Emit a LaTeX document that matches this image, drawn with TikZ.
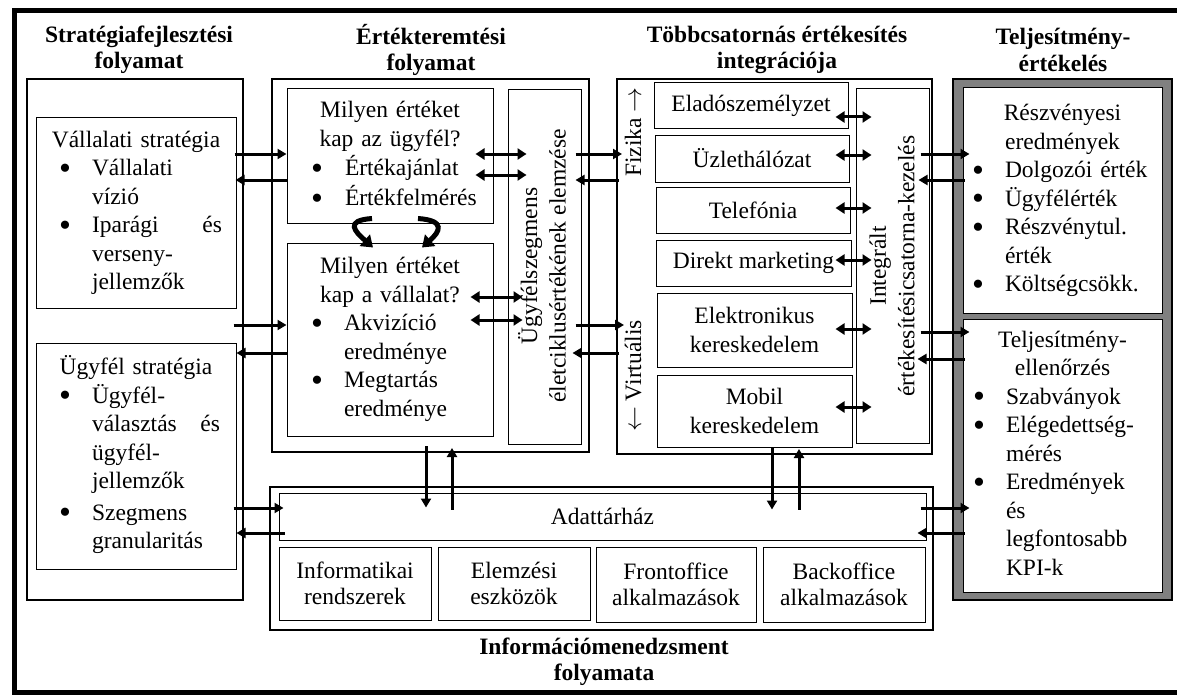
\documentclass[tikz,border=0pt]{standalone}
\usepackage{fontspec}
\setmainfont{Liberation Serif}
\usetikzlibrary{arrows.meta,calc}
\setlength\parindent{0pt}
% one line of a box: centred heading, bulleted line, continuation line
\newcommand\bigbullet{\smash{\raisebox{-3.5pt}{\scalebox{1.45}{\textbullet}}}}
\newcommand\boxhead[1]{\makebox[\linewidth]{\strut#1}}
\newcommand\bulline[3]{\makebox[\linewidth][l]{\strut\hspace*{#1pt}\rlap{\bigbullet}\hspace*{#2pt}#3}}
\newcommand\contline[2]{\makebox[\linewidth][l]{\strut\hspace*{#1pt}#2}}

\tikzset{
  outerbox/.style={draw, line width=2pt, inner sep=0pt},
  innerbox/.style={draw, line width=1pt, inner sep=0pt},
  plaintext/.style={inner sep=0pt},
  titletext/.style={inner sep=0pt, align=center, font=\fontsize{23.5pt}{26.5pt}\selectfont\bfseries},
  twolines/.style={align=center, font=\fontsize{23.5pt}{26.5pt}\selectfont},
  onearrow/.style={line width=3pt, -{Triangle[length=9pt,width=10pt]}},
  twoarrow/.style={line width=3pt, {Triangle[length=9pt,width=11pt]}-{Triangle[length=9pt,width=11pt]}},
  bendarrow/.style={line width=5pt, -{Triangle[length=11pt,width=15pt]}},
}

\begin{document}
\begin{tikzpicture}[x=1pt,y=-1pt,font=\fontsize{23.5pt}{28.5pt}\selectfont]
\useasboundingbox (0,0) rectangle (1177,698);

% heavy outer frame (its right side runs past the page edge)
\draw[line width=5pt] (14,10.5) rectangle (1185,692);

% column titles
\node[titletext] (t1) at (139,50) {Stratégiafejlesztési\\folyamat};
\node[titletext] (t2) at (431,50) {Értékteremtési\\folyamat};
\node[titletext] (t3) at (777,50) {Többcsatornás értékesítés\\integrációja};
\node[titletext] (t4) at (1063,50) {Teljesítmény-\\értékelés};
\node[titletext] (t5) at (604,662) {Információmenedzsment\\folyamata};

% strategy development
\node[outerbox, minimum width=216pt, minimum height=521pt] (c1) at (135,339.5) {};
\node[innerbox, text width=200pt, minimum height=190pt] (vs) at (136,213) {%
  \boxhead{Vállalati stratégia}\\
  \bulline{23}{33}{Vállalati}\\
  \contline{56}{vízió}\\
  \bulline{23}{33}{\makebox[130pt]{Iparági\hfill és}}\\
  \contline{56}{verseny-}\\
  \contline{56}{jellemzők}};
\node[innerbox, text width=200pt, minimum height=226pt] (us) at (136,456) {%
  \boxhead{Ügyfél stratégia}\\
  \bulline{23}{33}{Ügyfél-}\\
  \contline{56}{\makebox[128pt]{választás\hfill és}}\\
  \contline{56}{ügyfél-}\\
  \contline{56}{jellemzők}\\[3pt]
  \bulline{23}{33}{Szegmens}\\
  \contline{56}{granularitás}};

% value creation
\node[outerbox, minimum width=317pt, minimum height=373pt] (c2) at (430.5,265.5) {};
\node[innerbox, text width=206pt, minimum height=134pt] (q1) at (390,156) {%
  \boxhead{Milyen értéket}\\
  \boxhead{kap az ügyfél?}\\
  \bulline{24}{34}{Értékajánlat}\\
  \bulline{24}{34}{Értékfelmérés}};
\node[innerbox, text width=206pt, minimum height=193pt] (q2) at (390,339.5) {%
  \boxhead{Milyen értéket}\\
  \boxhead{kap a vállalat?}\\
  \bulline{24}{33}{Akvizíció}\\
  \contline{57}{eredménye}\\
  \bulline{24}{33}{Megtartás}\\
  \contline{57}{eredménye}};
\node[innerbox, minimum width=73pt, minimum height=354pt] (lc) at (544.5,267) {};
\node[plaintext, rotate=90, align=center] (lct) at (542,266) {Ügyfélszegmens\\életciklusértékének elemzése};

% multichannel integration
\node[outerbox, minimum width=315pt, minimum height=375pt] (c3) at (774.5,266.5) {};
\node[plaintext, rotate=90] (fiz) at (633,132) {Fizika $\rightarrow$};
\node[plaintext, rotate=90] (virt) at (633,376) {$\leftarrow$ Virtuális};
\node[innerbox, minimum width=194pt, minimum height=46pt] (ch1) at (751,106) {Eladószemélyzet};
\node[innerbox, minimum width=194pt, minimum height=47pt] (ch2) at (752,158.5) {Üzlethálózat};
\node[innerbox, minimum width=194pt, minimum height=46pt] (ch3) at (753,210) {Telefónia};
\node[innerbox, minimum width=195pt, minimum height=46pt] (ch4) at (753.5,263) {Direkt marketing};
\node[innerbox, minimum width=195pt, minimum height=74pt, align=center] (ch5) at (754.5,330) {Elektronikus\\kereskedelem};
\node[innerbox, minimum width=195pt, minimum height=72pt, align=center] (ch6) at (754.5,411) {Mobil\\kereskedelem};
\node[innerbox, minimum width=73pt, minimum height=354pt] (ic) at (892.5,266) {};
\node[plaintext, rotate=90, align=center] (ict) at (892,266) {Integrált\\értékesítésicsatorna-kezelés};

% performance evaluation
\node[draw, line width=1.5pt, fill=black!50, inner sep=0pt, minimum width=219pt, minimum height=521pt] (c4) at (1062.5,339.5) {};
\node[innerbox, fill=white, text width=199pt, minimum height=225pt] (r1) at (1062.5,200.5) {%
  \boxhead{Részvényesi}\\
  \boxhead{eredmények}\\
  \bulline{9}{33}{Dolgozói érték}\\
  \bulline{9}{33}{Ügyfélérték}\\
  \bulline{9}{33}{Részvénytul.}\\
  \contline{42}{érték}\\
  \bulline{9}{33}{Költségcsökk.}};
\node[innerbox, fill=white, text width=199pt, minimum height=273pt] (r2) at (1062.5,455.5) {%
  \boxhead{Teljesítmény-}\\
  \boxhead{ellenőrzés}\\
  \bulline{10}{33}{Szabványok}\\
  \bulline{10}{33}{Elégedettség-}\\
  \contline{43}{mérés}\\
  \bulline{10}{33}{Eredmények}\\
  \contline{43}{és}\\
  \contline{43}{legfontosabb}\\
  \contline{43}{KPI-k}};

% information management
\node[outerbox, minimum width=663pt, minimum height=143pt] (im) at (601.5,558.5) {};
\node[innerbox, minimum width=647pt, minimum height=47pt] (dw) at (602.5,516.5) {Adattárház};
\node[innerbox, twolines, minimum width=152pt, minimum height=73pt] (b1) at (355,583.5) {Informatikai\\rendszerek};
\node[innerbox, twolines, minimum width=152pt, minimum height=73pt] (b2) at (514,583.5) {Elemzési\\eszközök};
\node[innerbox, twolines, minimum width=160pt, minimum height=75pt] (b3) at (676,584.5) {Frontoffice\\alkalmazások};
\node[innerbox, twolines, minimum width=162pt, minimum height=75pt] (b4) at (844,584.5) {Backoffice\\alkalmazások};

% strategy <-> value creation and data warehouse
\draw[onearrow, shorten <=-2pt] (vs.east |- 0,154) -- (q1.west |- 0,154);
\draw[onearrow, shorten >=-1pt] (q1.west |- 0,180) -- (vs.east |- 0,180);
\draw[onearrow, shorten <=-3pt] (us.east |- 0,325) -- (q2.west |- 0,325);
\draw[onearrow] (q2.west |- 0,353) -- (us.east |- 0,353);
\draw[onearrow, shorten <=-3pt, shorten >=-5pt] (us.east |- 0,508) -- (dw.west |- 0,508);
\draw[onearrow, shorten <=-6pt] (dw.west |- 0,533) -- (us.east |- 0,533);

% value questions <-> lifecycle analysis
\draw[twoarrow, shorten <=-18pt, shorten >=-19pt] (q1.east |- 0,154) -- (lc.west |- 0,154);
\draw[twoarrow, shorten <=-18pt, shorten >=-19pt] (q1.east |- 0,175) -- (lc.west |- 0,175);
\draw[twoarrow, shorten <=-23pt, shorten >=-15pt] (q2.east |- 0,297) -- (lc.west |- 0,297);
\draw[twoarrow, shorten <=-23pt, shorten >=-15pt] (q2.east |- 0,320) -- (lc.west |- 0,320);

% feedback between the two value questions
\draw[bendarrow] ($(q1.south)+(-18,-5)$) .. controls +(-28,2) and +(-18,-16) .. ($(q2.north)+(-17,5)$);
\draw[bendarrow] ($(q1.south)+(28,-5)$) .. controls +(28,2) and +(18,-16) .. ($(q2.north)+(32,5)$);

% value creation <-> channels
\draw[onearrow, shorten <=-6pt, shorten >=-6pt] (lc.east |- 0,154) -- (c3.west |- 0,154);
\draw[onearrow, shorten <=-3pt, shorten >=-6pt] (c3.west |- 0,180) -- (lc.east |- 0,180);
\draw[onearrow, shorten <=-6pt, shorten >=-8pt] (lc.east |- 0,325) -- (c3.west |- 0,325);
\draw[onearrow, shorten <=-3pt, shorten >=-9pt] (c3.west |- 0,353) -- (lc.east |- 0,353);

% channels <-> integrated channel management
\draw[twoarrow, shorten <=-13pt, shorten >=-16pt] (ch1.east |- 0,117) -- (ic.west |- 0,117);
\draw[twoarrow, shorten <=-14pt, shorten >=-16pt] (ch2.east |- 0,155) -- (ic.west |- 0,155);
\draw[twoarrow, shorten <=-15pt, shorten >=-16pt] (ch3.east |- 0,208) -- (ic.west |- 0,208);
\draw[twoarrow, shorten <=-16pt, shorten >=-16pt] (ch4.east |- 0,260) -- (ic.west |- 0,260);
\draw[twoarrow, shorten <=-17pt, shorten >=-16pt] (ch5.east |- 0,329) -- (ic.west |- 0,329);
\draw[twoarrow, shorten <=-17pt, shorten >=-16pt] (ch6.east |- 0,407) -- (ic.west |- 0,407);

% channels and data warehouse <-> performance evaluation
\draw[onearrow, shorten <=-9pt, shorten >=-7pt] (ic.east |- 0,154) -- (r1.west |- 0,154);
\draw[onearrow, shorten <=-2pt, shorten >=-11pt] (r1.west |- 0,180) -- (ic.east |- 0,180);
\draw[onearrow, shorten <=-9pt, shorten >=-7pt] (ic.east |- 0,332) -- (r2.west |- 0,332);
\draw[onearrow, shorten <=-2pt, shorten >=-12pt] (r2.west |- 0,359) -- (ic.east |- 0,359);
\draw[onearrow, shorten <=-6pt, shorten >=-7pt] (dw.east |- 0,508) -- (r2.west |- 0,508);
\draw[onearrow, shorten <=-2pt, shorten >=-9pt] (r2.west |- 0,533) -- (dw.east |- 0,533);

% value creation and channels <-> data warehouse
\draw[onearrow, shorten <=-7pt, shorten >=-15pt] (426,0 |- c2.south) -- (426,0 |- dw.north);
\draw[onearrow, shorten <=-17pt, shorten >=-5pt] (452,0 |- dw.north) -- (452,0 |- c2.south);
\draw[onearrow, shorten <=-7pt, shorten >=-17pt] (772,0 |- c3.south) -- (772,0 |- dw.north);
\draw[onearrow, shorten <=-17pt, shorten >=-6pt] (799,0 |- dw.north) -- (799,0 |- c3.south);
\end{tikzpicture}
\end{document}
